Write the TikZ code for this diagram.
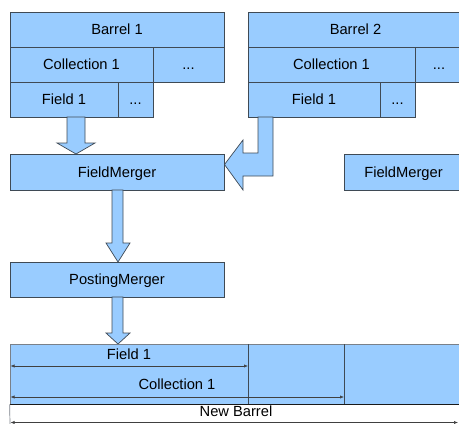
\documentclass[tikz,border=0pt]{standalone}
\usepackage{fontspec}
\setmainfont{Liberation Sans}
\usetikzlibrary{arrows.meta}
\definecolor{boxfill}{HTML}{99CCFF}
\definecolor{boxline}{HTML}{3F4A55}
\definecolor{rimline}{HTML}{7A8088}
\begin{document}
\begin{tikzpicture}[x=1pt,y=-1pt,
  lbl/.style={font=\fontsize{14.7}{17}\selectfont, text=black, inner sep=0,
    text height=10.5pt, text depth=0pt},
  cell/.style={draw=boxline, fill=boxfill, line width=0.7pt, inner sep=0,
    font=\fontsize{14.7}{17}\selectfont, text=black,
    text height=10.5pt, text depth=0pt},
  blockarrow/.style={draw=boxline, fill=boxfill, line width=0.7pt, line join=miter},
  dimarrow/.style={draw=black!75, line width=0.6pt, {Latex[length=4pt,width=3.2pt]}-{Latex[length=4pt,width=3.2pt]}},
]
\useasboundingbox (0,0) rectangle (459,424);
\clip (0,0) rectangle (459,424);

% ---- Barrel 1 ----
\node[cell, minimum width=214pt, minimum height=35pt] (b1)   at (117,29.5)  {Barrel 1};
\node[cell, minimum width=143pt, minimum height=35pt] (b1c)  at (81.5,64.5) {Collection 1};
\node[cell, minimum width=71pt,  minimum height=35pt] (b1cd) at (188.5,64.5) {...};
\node[cell, minimum width=108pt, minimum height=35pt] (b1f)  at (64,99.5)   {Field 1};
\node[cell, minimum width=35pt,  minimum height=35pt] (b1fd) at (135.5,99.5) {...};

% ---- Barrel 2 ----
\node[cell, minimum width=215pt, minimum height=35pt] (b2)   at (355.5,29.5) {Barrel 2};
\node[cell, minimum width=167pt, minimum height=35pt] (b2c)  at (331.5,64.5) {Collection 1};
\node[cell, minimum width=48pt,  minimum height=35pt] (b2cd) at (439,64.5)   {...};
\node[cell, minimum width=132pt, minimum height=35pt] (b2f)  at (314,99.5)   {Field 1};
\node[cell, minimum width=35pt,  minimum height=35pt] (b2fd) at (397.5,99.5) {...};

% ---- mergers ----
\node[cell, minimum width=214pt, minimum height=36pt] (fm1) at (117,172)   {FieldMerger};
\node[cell, minimum width=119pt, minimum height=36pt] (fm2) at (403.5,172) {FieldMerger};
\node[cell, minimum width=214pt, minimum height=35pt] (pm)  at (117,279.5) {PostingMerger};

% ---- block arrows ----
% Field 1 of Barrel 1 down into the first FieldMerger
\draw[blockarrow] (67,117) -- (67,143) -- (57,143) -- (76,154) -- (95,143)
  -- (85,143) -- (85,117) -- cycle;
% Field 1 of Barrel 2 bent round into the first FieldMerger
\draw[blockarrow] (258,117) -- (258,153) -- (243,153) -- (243,140) -- (224.5,164.5)
  -- (243,190) -- (243,176) -- (273,176) -- (273,117) -- cycle;
% FieldMerger down to PostingMerger
\draw[blockarrow] (112,190) -- (112,243) -- (106,243) -- (118,262) -- (130,243)
  -- (123,243) -- (123,190) -- cycle;
% PostingMerger down to the new barrel
\draw[blockarrow] (112,297) -- (112,333) -- (106,333) -- (118,344) -- (130,333)
  -- (123,333) -- (123,297) -- cycle;

% ---- new barrel strip ----
\node[draw=rimline, fill=boxfill, line width=0.7pt, minimum width=453pt,
  minimum height=60pt, inner sep=0] (nb) at (236.5,374) {};
\coordinate (f1end) at (248,344);
\coordinate (c1end) at (344,344);
\draw[boxline, line width=0.8pt] (f1end) -- (f1end |- nb.south);
\draw[boxline, line width=1pt] (c1end) -- (c1end |- nb.south);
\draw[black!90, line width=1pt] (nb.south west) -- (nb.south east);
\draw[rimline, line width=0.7pt] (nb.south west) -- (10,424);

\node[lbl] (nbf) at (129,354) {Field 1};
\node[lbl] (nbc) at (177,384.5) {Collection 1};
\node[lbl] (nbb) at (236,411.5) {New Barrel};

\coordinate (fa) at (10.5,366);
\coordinate (fb) at (248,366);
\coordinate (ca) at (10.5,397);
\coordinate (cb) at (344,397);
\coordinate (ba) at (10.5,422.5);
\coordinate (bb) at (458,422.5);
\draw[dimarrow] (fa) -- (fb);
\draw[dimarrow] (ca) -- (cb);
\draw[dimarrow] (ba) -- (bb);
\end{tikzpicture}
\end{document}
